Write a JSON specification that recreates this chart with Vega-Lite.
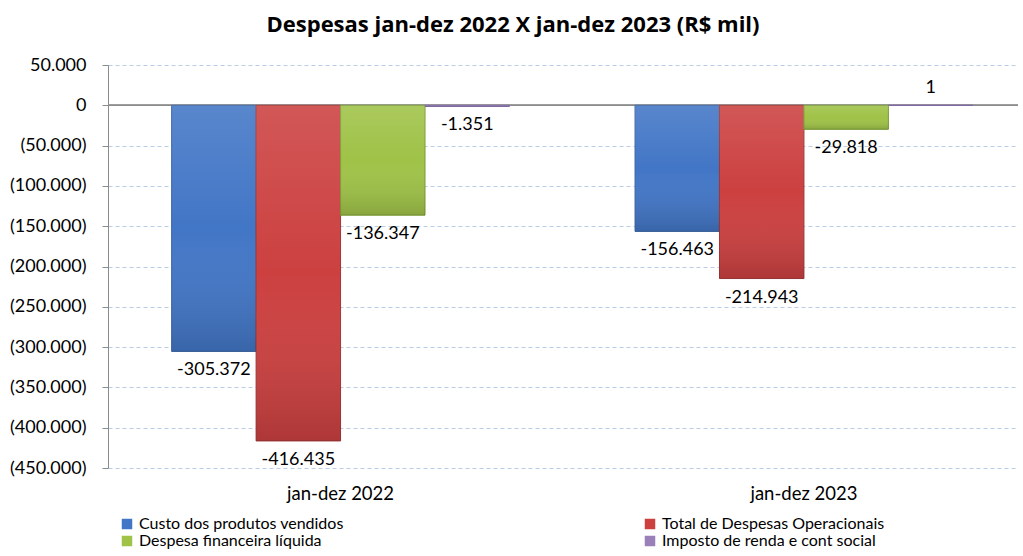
{
  "$schema": "https://vega.github.io/schema/vega-lite/v6.json",
  "width": 910,
  "height": 403,
  "autosize": "none",
  "padding": {"left": 108, "top": 65, "right": 5, "bottom": 88},
  "config": {
    "locale": {"number": {"decimal": ",", "thousands": ".", "grouping": [3], "currency": ["R$", ""], "minus": "-"}},
    "font": "Lato",
    "view": {"stroke": null}
  },
  "title": {"text": "Despesas jan-dez 2022 X jan-dez 2023 (R$ mil)", "fontSize": 22, "fontWeight": "bold", "font": "Open Sans", "color": "#000000", "offset": 19, "dx": -50},
  "data": {"values": [
    {"periodo": "jan-dez 2022", "serie": "Custo dos produtos vendidos", "valor": -305372},
    {"periodo": "jan-dez 2022", "serie": "Total de Despesas Operacionais", "valor": -416435},
    {"periodo": "jan-dez 2022", "serie": "Despesa financeira líquida", "valor": -136347},
    {"periodo": "jan-dez 2022", "serie": "Imposto de renda e cont social", "valor": -1351},
    {"periodo": "jan-dez 2023", "serie": "Custo dos produtos vendidos", "valor": -156463},
    {"periodo": "jan-dez 2023", "serie": "Total de Despesas Operacionais", "valor": -214943},
    {"periodo": "jan-dez 2023", "serie": "Despesa financeira líquida", "valor": -29818},
    {"periodo": "jan-dez 2023", "serie": "Imposto de renda e cont social", "valor": 1}
  ]},
  "encoding": {
    "x": {"field": "periodo", "type": "nominal", "scale": {"paddingInner": 0.271, "paddingOuter": 0.1174, "align": 0.585},
      "axis": {"title": null, "labelAngle": 0, "domain": false, "ticks": false, "labelFontSize": 18.5, "labelColor": "#000000", "labelPadding": 16, "labelFont": "Lato"}},
    "xOffset": {"field": "serie", "type": "nominal", "sort": ["Custo dos produtos vendidos", "Total de Despesas Operacionais", "Despesa financeira líquida", "Imposto de renda e cont social"], "scale": {"paddingInner": 0, "paddingOuter": 0}},
    "y": {"field": "valor", "type": "quantitative", "scale": {"domain": [-450000, 50000], "nice": false, "zero": true},
      "axis": {"title": null, "format": "(,.0f", "values": [50000, 0, -50000, -100000, -150000, -200000, -250000, -300000, -350000, -400000, -450000],
        "labelOverlap": false, "labelFontSize": 18, "labelColor": "#000000", "labelPadding": 16, "labelFont": "Lato",
        "domainColor": "#8c8c8c", "tickColor": "#8c8c8c", "tickSize": 6,
        "gridColor": "#b9cde5", "gridDash": [4, 3], "gridWidth": 1}}
  },
  "layer": [
    {
      "mark": {"type": "rule", "color": "#8c8c8c", "strokeWidth": 1},
      "encoding": {"y": {"datum": 0}, "x": null, "xOffset": null}
    },
    {
      "mark": {"type": "bar", "strokeWidth": 1},
      "encoding": {
        "color": {"field": "serie", "type": "nominal",
          "scale": {"domain": ["Custo dos produtos vendidos", "Total de Despesas Operacionais", "Despesa financeira líquida", "Imposto de renda e cont social"],
            "range": ["#4276c6", "#cc4040", "#9fc247", "#9a80b8"]},
          "legend": {"title": null, "orient": "none", "direction": "horizontal", "legendX": 11, "legendY": 451, "columns": 2, "columnPadding": 298, "rowPadding": 1,
            "symbolType": "square", "symbolSize": 110, "symbolStrokeWidth": 0, "labelFontSize": 16, "labelFont": "Lato", "labelColor": "#000000", "labelOffset": 4, "labelLimit": 400}},
        "stroke": {"field": "serie", "type": "nominal", "legend": null,
          "scale": {"domain": ["Custo dos produtos vendidos", "Total de Despesas Operacionais", "Despesa financeira líquida", "Imposto de renda e cont social"],
            "range": ["#3a64a0", "#9e3535", "#7a9a35", "#8068a6"]}}
      }
    },
    {
      "mark": {"type": "bar", "color": {"gradient": "linear", "x1": 0, "y1": 0, "x2": 0, "y2": 1, "stops": [{"offset": 0, "color": "rgba(255,255,255,0.12)"}, {"offset": 0.5, "color": "rgba(255,255,255,0)"}, {"offset": 1, "color": "rgba(0,0,0,0.15)"}]}},
      "encoding": {}
    },
    {
      "transform": [{"filter": "datum.valor < 0"}],
      "mark": {"type": "text", "baseline": "middle", "dy": 19, "fontSize": 18, "font": "Lato", "color": "#000000"},
      "encoding": {"text": {"field": "valor", "type": "quantitative", "format": ",.0f"}}
    },
    {
      "transform": [{"filter": "datum.valor >= 0"}],
      "mark": {"type": "text", "baseline": "middle", "dy": -17, "fontSize": 18, "font": "Lato", "color": "#000000"},
      "encoding": {"text": {"field": "valor", "type": "quantitative", "format": ",.0f"}}
    }
  ]
}
